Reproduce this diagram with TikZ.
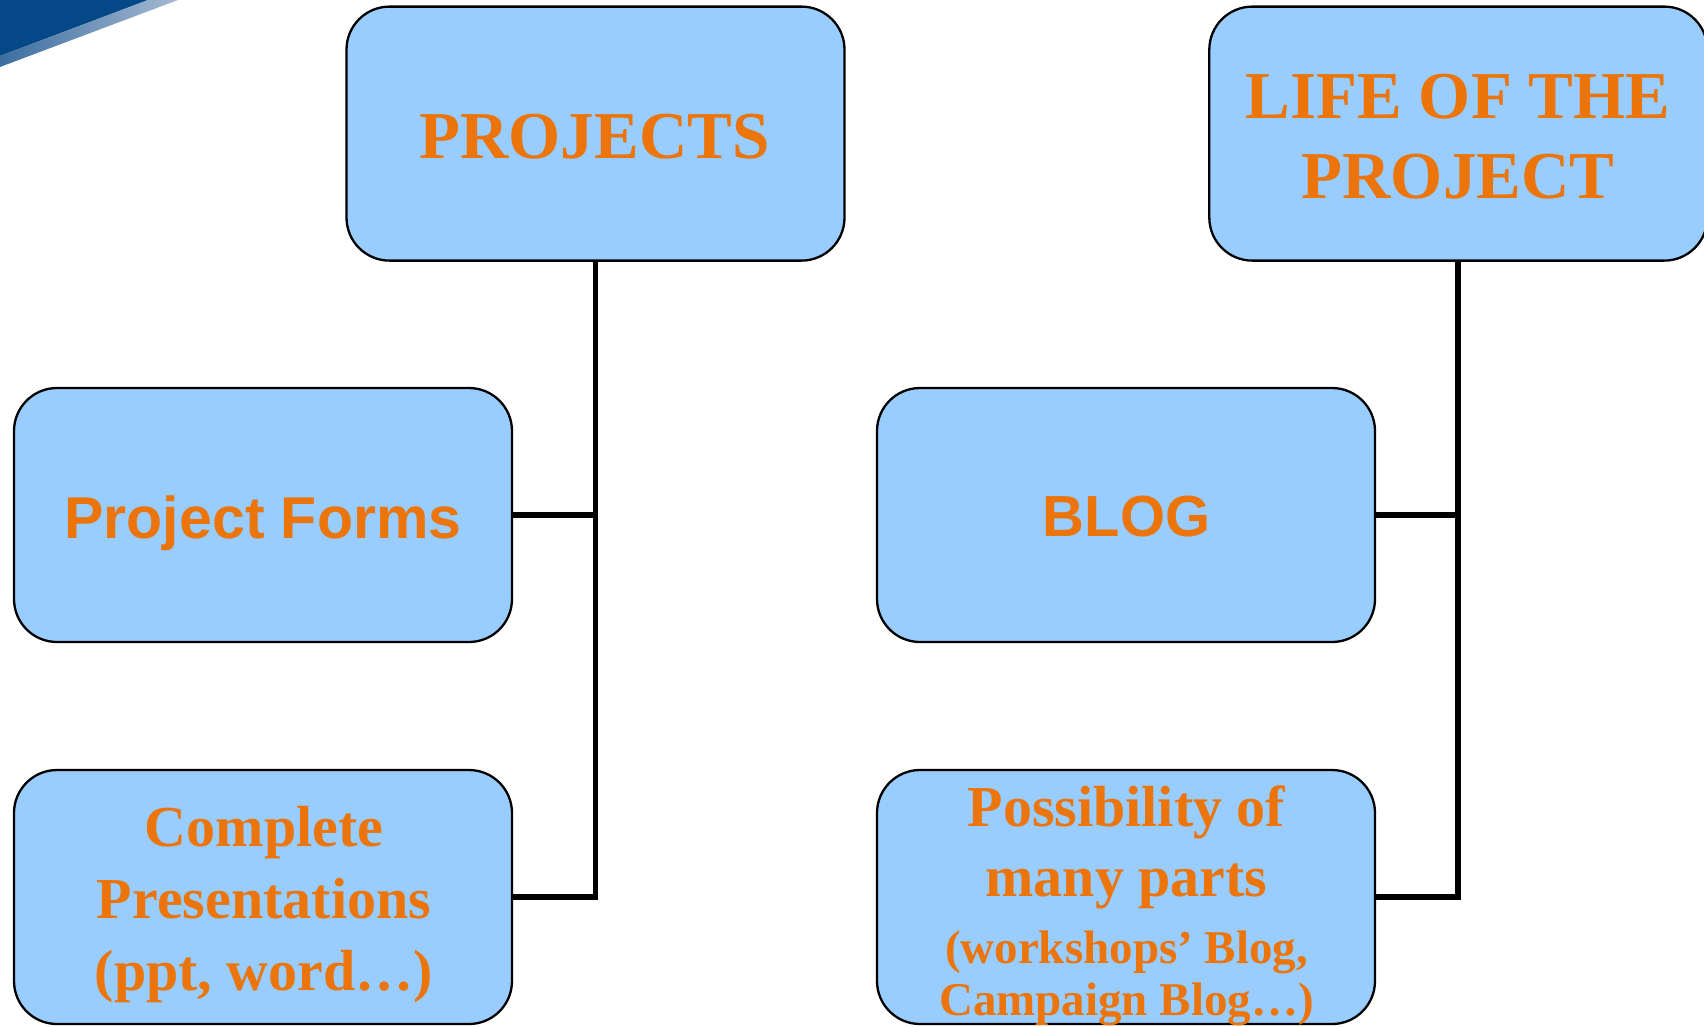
\documentclass[tikz,border=0pt]{standalone}
\usepackage{fontspec}
\setmainfont{Liberation Serif}
\newfontfamily\arialf{Liberation Sans}
\usetikzlibrary{calc}
\definecolor{boxblue}{RGB}{153,204,255}
\definecolor{orng}{RGB}{235,117,10}
\definecolor{wedgeblue}{RGB}{5,72,135}
\definecolor{stripedark}{RGB}{60,110,160}
\definecolor{stripelight}{RGB}{165,185,210}
\tikzset{
  box/.style={draw=black, line width=2.3pt, fill=boxblue, rounded corners=43pt,
    minimum width=498pt, minimum height=254pt, inner sep=0pt, outer sep=0pt},
  conn/.style={draw=black, line width=5.8pt},
  serift/.style={text=orng, inner sep=0pt, align=center, anchor=base},
  sanst/.style={text=orng, inner sep=0pt, anchor=base},
}
\begin{document}
\begin{tikzpicture}[x=1pt,y=-1pt]
\useasboundingbox (0,0) rectangle (1704,1026);
\clip (0,0) rectangle (1704,1026);
% corner decoration
\fill[wedgeblue] (0,0) -- (148,0) -- (0,56) -- cycle;
\shade[left color=stripedark, right color=stripelight] (148,0) -- (178,0) -- (0,67) -- (0,56) -- cycle;
% boxes
\node[box] (projects) at (595.5,133.6) {};
\node[box] (life) at (1458.3,133.6) {};
\node[box] (forms) at (263,515) {};
\node[box] (blog) at (1126,515) {};
\node[box] (complete) at (263,897) {};
\node[box] (poss) at (1126,897) {};
% connectors
\draw[conn] (projects.south) |- (complete.east);
\draw[conn] (forms.east) -- (forms.east -| projects.south);
\draw[conn] (life.south) |- (poss.east);
\draw[conn] (blog.east) -- (blog.east -| life.south);
% texts (anchor=base is the last line's baseline)
\node[serift, font={\bfseries\fontsize{67}{80}\selectfont}] (projectst) at (594.5,158.3) {PROJECTS};
\node[serift, font={\bfseries\fontsize{67}{80}\selectfont}] (lifet) at (1458,198) {LIFE OF THE\\PROJECT};
\node[sanst, font={\arialf\bfseries\fontsize{59}{70}\selectfont}] (formst) at (263,538) {Project Forms};
\node[sanst, font={\arialf\bfseries\fontsize{58}{70}\selectfont}] (blogt) at (1126.5,536.7) {BLOG};
\node[serift, font={\bfseries\fontsize{58}{71.6}\selectfont}] (completet) at (264,990) {Complete\\Presentations\\(ppt, word…)};
\node[serift, font={\bfseries\fontsize{58}{70}\selectfont}] (posst) at (1126.5,896.7) {Possibility of\\many parts};
\node[serift, font={\bfseries\fontsize{47}{52}\selectfont}] (posssub) at (1126.5,1015) {(workshops’ Blog,\\Campaign Blog…)};
\end{tikzpicture}
\end{document}
